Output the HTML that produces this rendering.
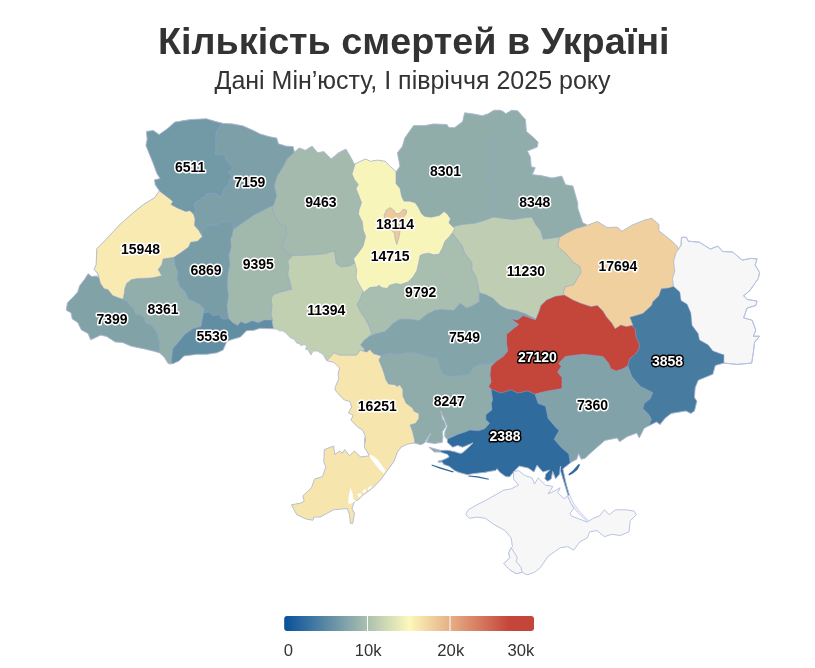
<!DOCTYPE html>
<html lang="uk"><head><meta charset="utf-8"><title>Кількість смертей в Україні</title>
<style>
html,body{margin:0;padding:0;background:#fff;}
body{width:815px;height:668px;overflow:hidden;position:relative;font-family:"Liberation Sans",sans-serif;}
h1{position:absolute;left:0;top:18.5px;width:827.6px;margin:0;text-align:center;font-size:37.75px;line-height:44px;font-weight:bold;color:#333;}
h2{position:absolute;left:0;top:65px;width:825px;margin:0;text-align:center;font-size:25px;line-height:30px;font-weight:normal;color:#333;}
svg{position:absolute;left:0;top:0;}
.labels text{font-family:"Liberation Sans",sans-serif;font-size:14px;font-weight:bold;text-anchor:middle;paint-order:stroke;stroke-width:3px;stroke-linejoin:round;}
.ll{fill:#000;stroke:#fff;}
.ld{fill:#fff;stroke:#000;}
.ax text{font-family:"Liberation Sans",sans-serif;font-size:16.67px;fill:#333;}
</style></head><body>
<h1>Кількість смертей в Україні</h1>
<h2>Дані Мін’юсту, І півріччя 2025 року</h2>
<svg width="815" height="668" viewBox="0 0 815 668">
<defs><linearGradient id="lg" x1="0" x2="1" y1="0" y2="0"><stop offset="0" stop-color="#08509a"/><stop offset="0.5" stop-color="#fdf8bb"/><stop offset="0.9" stop-color="#c4463a"/><stop offset="1" stop-color="#c4463a"/></linearGradient></defs>
<defs><clipPath id="sil"><path d="M146.4,131.4 153.3,130.4 159.1,134.6 168,128.2 174.8,122.1 190.1,119.6 206.3,118.7 214.1,121.1 222.5,123.3 231.8,123.8 242.8,125.8 253.9,130.7 260,133.9 269.8,136.8 276.7,138 278.4,143.7 285.8,146.1 293.1,146.6 294.4,152 299.3,147.9 305.4,150.3 312,146.1 317.7,152.8 323.8,151.5 331.2,158.9 338.5,152.8 345.9,149.1 349.6,155.2 354.5,164.3 360.6,161.3 365.5,158.9 370.4,161.3 377.8,160.1 385.2,161.3 390.1,166.3 396.2,171.7 399.9,166.3 397.4,152.8 402.3,146.6 404.8,138 413.6,125.5 425.3,125.5 433.2,123.9 446.9,124.5 448.9,127.5 454.8,127.5 462.6,121.6 464.6,112.8 472.4,113.7 482.3,115.7 488.2,113.7 494,110.2 499.9,110.2 502.9,111.4 505.8,113.7 511.7,110.2 517.6,110.8 525.5,119.6 526.4,131.4 533.3,137.3 538.2,142.2 537.2,147.1 527.4,151 530.4,156.9 531.3,166.7 535.3,167.7 532.3,174.6 541.2,175.6 552,178 561.8,176.1 565.5,184.7 572.9,185.9 577.8,203.1 577.8,208 582.7,222.7 587.6,225.2 597.4,221.5 607.2,227.6 617.1,227.1 622,231.3 631.8,225.2 644,220.2 651.4,218.3 652,218.4 658.9,224.5 658.9,230.7 671.2,240.5 677.3,246.6 678.5,249.1 681,245.4 681.5,237.3 686.4,237.3 688.3,241.2 699.4,242.2 710.4,249.1 717.8,246.1 722.7,251.5 732.5,252 742.3,260.1 750.9,258.4 757.1,258.9 755.1,265 759.5,272.4 758.3,278.5 749.7,290.8 743.6,295.7 747.2,299.4 757.1,301.1 755.8,305.5 747.2,308 743.6,317.8 752.1,320.2 755.8,330.1 753.4,336.2 759.5,336.2 754.6,342.3 753.4,352.1 751.7,363.1 737.4,364.4 723.9,363.1 715.3,365.6 712.9,374.2 698.2,380.3 695.2,387.7 694.5,397.5 696.9,401.2 694.5,411 690.8,413.4 685.9,411 671.2,413.4 665,418.3 660.1,424.5 656.4,422 649.1,425.7 644.2,428.2 639.3,438 636.8,433.1 627,436.7 619.6,441.7 617.2,438 604.9,440.4 590,453.4 585.1,458.3 581.2,459.3 578.6,453.8 576.8,459.3 571.3,462.2 562.9,468.8 565.9,482.6 569.9,496.9 568.6,497.3 564.2,483 560.4,470.6 560.5,466.1 559.6,474 555.6,478.9 552.7,471.4 551.3,478.9 547.8,481.2 544.8,478.9 545.8,474 549.7,470.1 542.9,472 537,465.2 534,472 528.2,468.1 519.3,466.1 514.4,471 509.5,476.9 505.6,476.5 500,472.4 496.9,468.7 495.7,470.6 490.8,471.2 484.7,472.4 473.6,473.6 467.5,474.8 458.9,472.4 454.6,470.6 449.1,466.3 443.6,464.4 442.3,462 438,462.6 438.7,460.7 442.9,460.1 449.1,457.1 447.9,454.6 440.5,452.1 434.4,452.1 428.8,447.2 440.5,450.3 447.9,450.3 454,451.5 460.1,453.4 462.6,452.8 468.7,447.2 473,442.9 462.6,447.2 457.7,445.4 452.8,447.2 447.2,442.3 447.2,439.3 444.8,436.8 444.8,431.9 447.2,426.4 445.4,422.1 442.9,416 440.5,411 441.7,413.5 442.3,418.4 444.8,422.1 446,426.4 442.3,431.9 442.9,436.8 442.3,442.3 434.4,443.6 426.4,442.3 430.7,433.1 424.5,442.9 420.9,444.8 414.1,442.9 407.2,444.2 401.1,447.2 397.4,452.1 393.7,461.9 386.4,471.7 380.2,480.3 371.7,488.9 363.1,495 358.2,499.9 354.5,501.2 352,508.5 354.5,513.4 352.8,523.3 350.3,523.3 349.6,514.7 347.1,508.5 333.6,509.8 320.1,517.1 314,517.1 312.8,520.3 305.4,518.8 296.8,514.7 291.4,504.8 300.5,503.1 304.2,501.2 302.9,495.8 311.5,487.7 314.5,479.1 322.6,476.6 325.8,466.8 323.8,461.9 324.3,449.6 333.6,446 334.8,454.5 339.8,450.9 342.2,453.3 344.7,449.6 349.6,455.8 354.5,450.9 360.6,457 369.2,455.8 368,453.3 364.3,447.2 365,437.4 365.2,442.5 365.2,436.1 362.8,430.5 357.2,426.5 350.8,420.1 353.2,415.2 348.4,412.8 351.6,407.2 350,401.6 344.4,400 338.8,394.4 334.8,389.6 335.6,386.4 338.8,378.4 338,373.6 339.6,368 334,362.4 326.8,360.8 325.8,359.4 323.3,354.5 317.4,351 313,351 311,355 307.5,349.1 305.6,349.6 307,345.6 304.1,344.6 300.6,345.6 299.6,343.6 296.7,343.1 294.2,339.2 290.2,337.7 286.3,333.3 282.8,330.8 279.4,330.8 277.4,329.3 274,328.8 260,328.3 253.9,330.3 246.5,330.7 240.4,337.1 231.8,339.6 226.9,341.3 223.2,349.9 217.1,352.8 207.2,354.3 197.4,354.3 183.9,356 179,360.9 173.4,363.4 170.4,364.1 168,363.4 164.3,357.3 159.4,352.8 153.3,351.1 143.4,348.7 131.2,346.2 122.6,342.5 115.2,342 106.6,336.4 100.5,335.2 93.1,338.8 90.6,339.8 88.1,333.6 81.4,329.9 77.7,322.6 72.2,318.9 71,312.8 66.3,310.3 67.3,302.9 73.4,296.8 77.7,291.9 79.5,285.8 84.4,279.6 88.1,273.7 91.8,276.6 96.1,276 98.9,277.2 97.3,272.9 94,269.2 96.1,264.9 96.8,248.7 106.6,238.9 118.9,225.4 131.2,214.4 143.4,204.5 154.5,197.7 159.4,191 155.2,184.7 154.5,179.8 160.1,178.5 156.9,173.6 152.8,162.6 148.8,152.8 145.9,145.4 147.1,139.3Z"/></clipPath></defs>
<path d="M146.4,131.4 153.3,130.4 159.1,134.6 168,128.2 174.8,122.1 190.1,119.6 206.3,118.7 214.1,121.1 222.5,123.3 231.8,123.8 242.8,125.8 253.9,130.7 260,133.9 269.8,136.8 276.7,138 278.4,143.7 285.8,146.1 293.1,146.6 294.4,152 299.3,147.9 305.4,150.3 312,146.1 317.7,152.8 323.8,151.5 331.2,158.9 338.5,152.8 345.9,149.1 349.6,155.2 354.5,164.3 360.6,161.3 365.5,158.9 370.4,161.3 377.8,160.1 385.2,161.3 390.1,166.3 396.2,171.7 399.9,166.3 397.4,152.8 402.3,146.6 404.8,138 413.6,125.5 425.3,125.5 433.2,123.9 446.9,124.5 448.9,127.5 454.8,127.5 462.6,121.6 464.6,112.8 472.4,113.7 482.3,115.7 488.2,113.7 494,110.2 499.9,110.2 502.9,111.4 505.8,113.7 511.7,110.2 517.6,110.8 525.5,119.6 526.4,131.4 533.3,137.3 538.2,142.2 537.2,147.1 527.4,151 530.4,156.9 531.3,166.7 535.3,167.7 532.3,174.6 541.2,175.6 552,178 561.8,176.1 565.5,184.7 572.9,185.9 577.8,203.1 577.8,208 582.7,222.7 587.6,225.2 597.4,221.5 607.2,227.6 617.1,227.1 622,231.3 631.8,225.2 644,220.2 651.4,218.3 652,218.4 658.9,224.5 658.9,230.7 671.2,240.5 677.3,246.6 678.5,249.1 681,245.4 681.5,237.3 686.4,237.3 688.3,241.2 699.4,242.2 710.4,249.1 717.8,246.1 722.7,251.5 732.5,252 742.3,260.1 750.9,258.4 757.1,258.9 755.1,265 759.5,272.4 758.3,278.5 749.7,290.8 743.6,295.7 747.2,299.4 757.1,301.1 755.8,305.5 747.2,308 743.6,317.8 752.1,320.2 755.8,330.1 753.4,336.2 759.5,336.2 754.6,342.3 753.4,352.1 751.7,363.1 737.4,364.4 723.9,363.1 715.3,365.6 712.9,374.2 698.2,380.3 695.2,387.7 694.5,397.5 696.9,401.2 694.5,411 690.8,413.4 685.9,411 671.2,413.4 665,418.3 660.1,424.5 656.4,422 649.1,425.7 644.2,428.2 639.3,438 636.8,433.1 627,436.7 619.6,441.7 617.2,438 604.9,440.4 590,453.4 585.1,458.3 581.2,459.3 578.6,453.8 576.8,459.3 571.3,462.2 562.9,468.8 565.9,482.6 569.9,496.9 568.6,497.3 564.2,483 560.4,470.6 560.5,466.1 559.6,474 555.6,478.9 552.7,471.4 551.3,478.9 547.8,481.2 544.8,478.9 545.8,474 549.7,470.1 542.9,472 537,465.2 534,472 528.2,468.1 519.3,466.1 514.4,471 509.5,476.9 505.6,476.5 500,472.4 496.9,468.7 495.7,470.6 490.8,471.2 484.7,472.4 473.6,473.6 467.5,474.8 458.9,472.4 454.6,470.6 449.1,466.3 443.6,464.4 442.3,462 438,462.6 438.7,460.7 442.9,460.1 449.1,457.1 447.9,454.6 440.5,452.1 434.4,452.1 428.8,447.2 440.5,450.3 447.9,450.3 454,451.5 460.1,453.4 462.6,452.8 468.7,447.2 473,442.9 462.6,447.2 457.7,445.4 452.8,447.2 447.2,442.3 447.2,439.3 444.8,436.8 444.8,431.9 447.2,426.4 445.4,422.1 442.9,416 440.5,411 441.7,413.5 442.3,418.4 444.8,422.1 446,426.4 442.3,431.9 442.9,436.8 442.3,442.3 434.4,443.6 426.4,442.3 430.7,433.1 424.5,442.9 420.9,444.8 414.1,442.9 407.2,444.2 401.1,447.2 397.4,452.1 393.7,461.9 386.4,471.7 380.2,480.3 371.7,488.9 363.1,495 358.2,499.9 354.5,501.2 352,508.5 354.5,513.4 352.8,523.3 350.3,523.3 349.6,514.7 347.1,508.5 333.6,509.8 320.1,517.1 314,517.1 312.8,520.3 305.4,518.8 296.8,514.7 291.4,504.8 300.5,503.1 304.2,501.2 302.9,495.8 311.5,487.7 314.5,479.1 322.6,476.6 325.8,466.8 323.8,461.9 324.3,449.6 333.6,446 334.8,454.5 339.8,450.9 342.2,453.3 344.7,449.6 349.6,455.8 354.5,450.9 360.6,457 369.2,455.8 368,453.3 364.3,447.2 365,437.4 365.2,442.5 365.2,436.1 362.8,430.5 357.2,426.5 350.8,420.1 353.2,415.2 348.4,412.8 351.6,407.2 350,401.6 344.4,400 338.8,394.4 334.8,389.6 335.6,386.4 338.8,378.4 338,373.6 339.6,368 334,362.4 326.8,360.8 325.8,359.4 323.3,354.5 317.4,351 313,351 311,355 307.5,349.1 305.6,349.6 307,345.6 304.1,344.6 300.6,345.6 299.6,343.6 296.7,343.1 294.2,339.2 290.2,337.7 286.3,333.3 282.8,330.8 279.4,330.8 277.4,329.3 274,328.8 260,328.3 253.9,330.3 246.5,330.7 240.4,337.1 231.8,339.6 226.9,341.3 223.2,349.9 217.1,352.8 207.2,354.3 197.4,354.3 183.9,356 179,360.9 173.4,363.4 170.4,364.1 168,363.4 164.3,357.3 159.4,352.8 153.3,351.1 143.4,348.7 131.2,346.2 122.6,342.5 115.2,342 106.6,336.4 100.5,335.2 93.1,338.8 90.6,339.8 88.1,333.6 81.4,329.9 77.7,322.6 72.2,318.9 71,312.8 66.3,310.3 67.3,302.9 73.4,296.8 77.7,291.9 79.5,285.8 84.4,279.6 88.1,273.7 91.8,276.6 96.1,276 98.9,277.2 97.3,272.9 94,269.2 96.1,264.9 96.8,248.7 106.6,238.9 118.9,225.4 131.2,214.4 143.4,204.5 154.5,197.7 159.4,191 155.2,184.7 154.5,179.8 160.1,178.5 156.9,173.6 152.8,162.6 148.8,152.8 145.9,145.4 147.1,139.3Z" fill="#c2d0b2"/>
<g clip-path="url(#sil)" stroke="#8fa3d6" stroke-opacity="0.6" stroke-width="0.9" stroke-linejoin="round">
<path d="M272.5,320.1 271.1,313.9 272.1,306 271.1,298.2 274,294.2 279.9,292.3 287.8,290.3 291.7,289.3 290.1,282.4 287.8,274.6 288.8,266.7 287.8,260.9 292.7,255.6 300,200 250,190 190,230 190,330 265,340Z" fill="#a1b9ad"/>
<path d="M354.5,262.9 349.6,265.9 341,267.1 336.1,263.4 334.8,252.4 332.4,251.2 326.3,253.6 314,254.8 299.3,255.6 292.6,255.6 285.8,253 281.9,246.1 283.9,239.3 286.8,234.4 285.8,226.5 279.9,223.6 275,217.7 273.1,211.8 272.1,206.9 262,200 262,120 375,120 375,250Z" fill="#a3baad"/>
<path d="M233.2,229.4 238.7,225.5 247.5,219.6 254.4,214.7 262.3,210.8 271.1,206.3 273.5,205.5 276.7,195.7 274.2,185.9 277.2,176.1 283.3,166.3 287,158.9 294.4,152 296,120 180,120 180,245Z" fill="#7da0a8"/>
<path d="M228.9,318.8 227.9,313.9 226.9,306 228.5,296.2 227.3,286.4 227.9,274.6 229.9,264.8 228.9,255 231.2,247.1 230.5,239.3 232.4,234.4 233.2,229.4 232.8,222.6 227.9,220.6 222,221.6 217.1,224.5 206.3,225.5 201.4,231.4 202.4,236.3 165,240 165,330 228,330Z" fill="#789da7"/>
<path d="M222.5,123.3 219.5,127 216.1,131.9 215.6,141.7 215.9,150 215.3,153.7 219,154.9 222.7,153.7 225.1,155.5 225.7,159.8 228.8,163.5 232.5,167.2 231.9,169.6 228.2,172.1 230,173.9 232.5,176.4 229.4,179.4 228.8,183.7 225.1,188 223.3,190.5 222.1,196.6 219,196 214.7,192.9 210.4,193.6 205.5,194.2 204.3,197.2 201.2,197.9 200.6,200.3 195.7,201.5 193.8,205.2 196.3,210.1 192.6,214.4 185,225 130,225 130,110 222,110Z" fill="#7299a6"/>
<path d="M173.9,257.9 174.9,264.8 177.9,272.6 176.9,278.5 179.8,286.4 185.7,292.3 187.7,298.2 190.6,300.1 199.4,304 204.4,309 203.4,312.9 205,380 120,380 120,250 174,250Z" fill="#91aeab"/>
<path d="M123.1,299.3 127.4,301.7 129.8,305.4 133.5,308.5 135.4,314 140.9,315.2 144.6,317.7 145.2,322.6 151.9,325.6 156.9,332.7 159.4,342.5 159.4,352.8 160,370 60,370 60,250 115,250Z" fill="#81a3a8"/>
<path d="M171.7,363.4 171.7,357.3 172.9,348.7 180.2,340.1 185.2,333.9 193.7,328.3 201.1,326.6 201.8,321.7 203.6,313.1 208.3,311.9 213.2,315.8 219.1,314.8 222,318.8 228.9,318.8 232.8,322.7 237.7,325.6 240.7,321.7 245.6,323.7 252.4,320.7 258.3,322.7 264.2,320.1 272.5,320.1 271.8,320.9 273.5,329 272,345 170,370Z" fill="#628ea4"/>
<path d="M159.4,191 164.3,194.7 169.2,198.4 172.9,201.6 170.9,204.5 177.8,208.2 185.6,211.4 190.1,210.7 193.7,214.4 195,219.3 194.5,225.4 198.7,230.3 202.3,236.4 197.5,241.2 190.6,242.2 188.6,247.1 181.8,252 173.9,257.3 169.2,258 163.1,259 161.8,264.7 158.2,269.6 161.8,275.7 153.3,277.7 147,278.2 138.4,278.4 131.7,279.6 126.8,283.3 124.9,288.2 124.3,293.1 123.1,299.3 117.6,297.4 112.7,295.6 110.2,292.5 107.8,289.4 104.1,288.8 100.4,283.3 99.2,278.4 97.3,272.9 85,268 80,180 150,180Z" fill="#f8eab1"/>
<path d="M363.1,291.5 359.4,300.8 356.9,304.5 360.6,311.9 365.5,319.2 369.2,326.6 371.7,333.9 369.2,336.4 380,340 500,340 500,220 370,220Z" fill="#a8beae"/>
<path d="M364.3,349.4 364.3,348.7 360.6,345 364.3,340.1 369.2,336.4 375.3,333.9 385.2,331.5 393.7,322.9 399.9,319.2 409.7,319.2 419.5,320.4 426.9,314.3 434.2,310.6 441.6,309.4 453.9,310.6 459.9,303.3 467,308 473.1,305.5 479.3,301.8 479.3,292.8 490,285 560,285 560,400 360,400Z" fill="#83a5a9"/>
<path d="M385,100 510,100 510,229 385,229Z" fill="#90adaa"/>
<path d="M500.5,110.3 499.3,114.7 502.9,124.5 499.3,131.9 491.9,136.8 489.4,144.2 491.9,156.4 490.7,171.2 485.8,181 493.1,187.1 491.9,198.2 490.7,210.4 490.7,216.6 492,245 600,245 600,100 502,100Z" fill="#90adab"/>
<path d="M445,230 453.7,226.5 462.1,224.5 474.4,223.3 482.9,220.9 492.8,217.2 495.2,217.2 503.8,218.4 513.6,219.6 524.7,217.7 532,217.2 535.7,224.5 540.6,230.7 543.1,239.3 552.9,238 560.7,236.8 600,236 600,315 535.7,319 525.9,314.1 516.1,310.4 507.5,309.2 500.1,305.5 492.8,298.2 485.4,294.5 479.3,292.8 478,284.7 475.6,276.1 471.9,269.9 471.9,262.6 464.5,252.8 462.1,245.4 457.2,239.3 452.8,233.6Z" fill="#bfceb2"/>
<path d="M379.4,356.5 388,353.3 397.8,354.5 410.1,352.1 417.4,353.3 427.2,357 437.1,358.2 439.5,366.8 443.2,374.2 451.8,376.6 461.6,375.4 470.2,374.2 473.9,366.8 480.5,364.4 488.6,363.9 500,362 500,480 375,480 375,360Z" fill="#8facaa"/>
<path d="M520,350 700,350 700,480 520,480Z" fill="#80a2a8"/>
<path d="M355.2,163.6 352,174 354.4,179.6 358.4,184.4 356,188.4 359.2,196.4 361.6,202.8 359.2,209.2 358.4,214 362.4,222 363.2,230.1 365.6,236.4 363.2,246 357.6,254 353.6,258.8 354.4,261.5 356.8,270 356,278 359.2,284.4 362.4,290 363.7,292.4 369.6,287.6 376.8,286.8 379.2,285.2 381.6,287.6 387.2,288.4 389.6,285.2 396,283.6 400.8,284.4 408,282 412.8,277.2 416.8,270.8 418.5,263.6 420.1,255.6 423.3,254 428.9,253.2 433.7,254.8 439.3,254 442.5,247.6 444.9,241.2 448.9,237.2 452.1,233.2 454.5,228.5 448.9,222.8 450.5,218.8 447.3,214 444.1,211.6 439.3,215.6 431.3,217.2 424.9,216.4 421.7,214 418.5,207.6 415.2,202.8 409.6,201.2 404,201.2 401.6,196.4 400,188.4 396,183.6 396,170 396,150 354,150Z" fill="#f8f5ba"/>
<path d="M384,215.6 386.4,210 390.4,207.6 393.6,210 396,214 400,213.2 403.2,209.2 406.4,210 406.4,213.2 403.2,218 400.8,222 399.2,226.8 400,231.7 398.4,239.7 396.8,244.5 395.2,239.7 394.4,233.3 391.2,230.1 388,225.2 385.6,220.4Z" fill="#eeca9a"/>
<path d="M326.8,360.8 334,352.8 339.6,355.2 348.4,355.2 356.4,355.2 360.4,350.4 366.8,352 370,349.6 373.2,353.6 381.2,356 378.8,360 381.2,365.6 383.6,372 386,380 388.5,384 394.9,384.8 397.3,386.4 399.7,384.8 402.9,389.6 402.9,396 406.1,403.2 412.5,408 414.1,411.2 418.9,413.6 418.9,418.5 415.7,423.3 410.1,424.9 412.5,431.3 414.1,437.7 414.9,442.5 414.5,443.4 420,530 280,530 280,360Z" fill="#f7e5ae"/>
<path d="M586.4,225.6 575.3,228.8 565.5,233.7 559.4,237.4 557.8,246.6 565.2,252.8 573.7,262.6 579.9,266.3 581.1,272.4 577.4,278.5 573.7,284.7 565.2,287.1 562.7,295.2 570,345 700,345 700,200 590,200Z" fill="#f0d09e"/>
<path d="M564.2,294.9 565.3,295.5 573.1,300 580.8,303.3 590.8,306.6 597.5,305.5 603,311.1 606.3,316.6 611.9,323.3 615.2,328.8 620.7,325 626.3,326.6 631.4,325.5 650,326 650,362 627.8,365.8 623,368.7 616.3,370.9 610.8,368.7 608.6,363.2 603,356.5 594.1,355.4 583.1,354.3 573.1,355.4 565.3,356.5 558.7,363.2 561.3,366.5 557.6,372 562,377.6 562,388.6 555.3,389.8 547.6,390.9 538.7,393.1 535,394.2 530,405 496,400 491.1,389.1 488.8,386.4 491.1,382 490,374.2 491.1,366.5 496.6,360.9 503.3,356.5 507.7,351 506.6,343.2 506.6,334.3 513.2,328.8 518.8,324.4 511,318.8 517.7,319.9 523.2,315.5 535.4,319.9 538.7,312.2 540.9,305.5 546.5,300 555.3,296.2Z" fill="#c4463a"/>
<path d="M447.2,439.3 452.8,436.8 457.7,434.4 463.8,432.5 469.9,430.1 478.5,430.7 484.7,428.8 489.6,423.3 485.9,419.6 485.9,414.7 492,409.8 491.4,403.7 492.6,400 491.1,389.1 501,393.1 511,389.8 517.7,393.1 527.6,390.9 535,394.2 538.2,403.6 545.5,406.1 548,418.3 555.3,426.9 559,430.6 554.1,439.2 561.5,447.8 568.8,453.9 570.1,462.5 575,470 575,500 445,500 440.5,452.8 440.5,450.1 447.2,442.3Z" fill="#2f6b9c"/>
<path d="M633.1,325.6 629.9,317.3 636.8,315.3 642.9,313.4 651.5,305.5 652.8,301.8 658.9,295.7 661.3,288.8 668.7,287.9 673.6,286.4 780,287 780,440 650,440 649.1,425.2 651.5,419.6 649.1,414.7 642.9,408.5 644.2,403.6 650.3,398.7 652.8,392.6 640.5,386.4 631.9,376.6 627.8,365.8 629.6,358.7 634,355.4 638.5,349.9 639.6,344.3 636.3,337.7 635.2,328.8 631.4,325.5Z" fill="#477ba0"/>
<path d="M678.5,249.1 676.1,252.8 673.6,261.3 674.8,271.2 672.4,278.5 673.6,286.4 679.8,292 681,300.6 687.1,304.3 690.8,312.9 692,325.2 698.2,333.7 699.4,339.9 708,344.8 712.9,350.9 722.7,354.6 723.9,354.5 723.9,363.1 725,380 790,380 790,220 680,220Z" fill="#f7f7f7"/>
</g>
<path d="M146.4,131.4 153.3,130.4 159.1,134.6 168,128.2 174.8,122.1 190.1,119.6 206.3,118.7 214.1,121.1 222.5,123.3 231.8,123.8 242.8,125.8 253.9,130.7 260,133.9 269.8,136.8 276.7,138 278.4,143.7 285.8,146.1 293.1,146.6 294.4,152 299.3,147.9 305.4,150.3 312,146.1 317.7,152.8 323.8,151.5 331.2,158.9 338.5,152.8 345.9,149.1 349.6,155.2 354.5,164.3 360.6,161.3 365.5,158.9 370.4,161.3 377.8,160.1 385.2,161.3 390.1,166.3 396.2,171.7 399.9,166.3 397.4,152.8 402.3,146.6 404.8,138 413.6,125.5 425.3,125.5 433.2,123.9 446.9,124.5 448.9,127.5 454.8,127.5 462.6,121.6 464.6,112.8 472.4,113.7 482.3,115.7 488.2,113.7 494,110.2 499.9,110.2 502.9,111.4 505.8,113.7 511.7,110.2 517.6,110.8 525.5,119.6 526.4,131.4 533.3,137.3 538.2,142.2 537.2,147.1 527.4,151 530.4,156.9 531.3,166.7 535.3,167.7 532.3,174.6 541.2,175.6 552,178 561.8,176.1 565.5,184.7 572.9,185.9 577.8,203.1 577.8,208 582.7,222.7 587.6,225.2 597.4,221.5 607.2,227.6 617.1,227.1 622,231.3 631.8,225.2 644,220.2 651.4,218.3 652,218.4 658.9,224.5 658.9,230.7 671.2,240.5 677.3,246.6 678.5,249.1 681,245.4 681.5,237.3 686.4,237.3 688.3,241.2 699.4,242.2 710.4,249.1 717.8,246.1 722.7,251.5 732.5,252 742.3,260.1 750.9,258.4 757.1,258.9 755.1,265 759.5,272.4 758.3,278.5 749.7,290.8 743.6,295.7 747.2,299.4 757.1,301.1 755.8,305.5 747.2,308 743.6,317.8 752.1,320.2 755.8,330.1 753.4,336.2 759.5,336.2 754.6,342.3 753.4,352.1 751.7,363.1 737.4,364.4 723.9,363.1 715.3,365.6 712.9,374.2 698.2,380.3 695.2,387.7 694.5,397.5 696.9,401.2 694.5,411 690.8,413.4 685.9,411 671.2,413.4 665,418.3 660.1,424.5 656.4,422 649.1,425.7 644.2,428.2 639.3,438 636.8,433.1 627,436.7 619.6,441.7 617.2,438 604.9,440.4 590,453.4 585.1,458.3 581.2,459.3 578.6,453.8 576.8,459.3 571.3,462.2 562.9,468.8 565.9,482.6 569.9,496.9 568.6,497.3 564.2,483 560.4,470.6 560.5,466.1 559.6,474 555.6,478.9 552.7,471.4 551.3,478.9 547.8,481.2 544.8,478.9 545.8,474 549.7,470.1 542.9,472 537,465.2 534,472 528.2,468.1 519.3,466.1 514.4,471 509.5,476.9 505.6,476.5 500,472.4 496.9,468.7 495.7,470.6 490.8,471.2 484.7,472.4 473.6,473.6 467.5,474.8 458.9,472.4 454.6,470.6 449.1,466.3 443.6,464.4 442.3,462 438,462.6 438.7,460.7 442.9,460.1 449.1,457.1 447.9,454.6 440.5,452.1 434.4,452.1 428.8,447.2 440.5,450.3 447.9,450.3 454,451.5 460.1,453.4 462.6,452.8 468.7,447.2 473,442.9 462.6,447.2 457.7,445.4 452.8,447.2 447.2,442.3 447.2,439.3 444.8,436.8 444.8,431.9 447.2,426.4 445.4,422.1 442.9,416 440.5,411 441.7,413.5 442.3,418.4 444.8,422.1 446,426.4 442.3,431.9 442.9,436.8 442.3,442.3 434.4,443.6 426.4,442.3 430.7,433.1 424.5,442.9 420.9,444.8 414.1,442.9 407.2,444.2 401.1,447.2 397.4,452.1 393.7,461.9 386.4,471.7 380.2,480.3 371.7,488.9 363.1,495 358.2,499.9 354.5,501.2 352,508.5 354.5,513.4 352.8,523.3 350.3,523.3 349.6,514.7 347.1,508.5 333.6,509.8 320.1,517.1 314,517.1 312.8,520.3 305.4,518.8 296.8,514.7 291.4,504.8 300.5,503.1 304.2,501.2 302.9,495.8 311.5,487.7 314.5,479.1 322.6,476.6 325.8,466.8 323.8,461.9 324.3,449.6 333.6,446 334.8,454.5 339.8,450.9 342.2,453.3 344.7,449.6 349.6,455.8 354.5,450.9 360.6,457 369.2,455.8 368,453.3 364.3,447.2 365,437.4 365.2,442.5 365.2,436.1 362.8,430.5 357.2,426.5 350.8,420.1 353.2,415.2 348.4,412.8 351.6,407.2 350,401.6 344.4,400 338.8,394.4 334.8,389.6 335.6,386.4 338.8,378.4 338,373.6 339.6,368 334,362.4 326.8,360.8 325.8,359.4 323.3,354.5 317.4,351 313,351 311,355 307.5,349.1 305.6,349.6 307,345.6 304.1,344.6 300.6,345.6 299.6,343.6 296.7,343.1 294.2,339.2 290.2,337.7 286.3,333.3 282.8,330.8 279.4,330.8 277.4,329.3 274,328.8 260,328.3 253.9,330.3 246.5,330.7 240.4,337.1 231.8,339.6 226.9,341.3 223.2,349.9 217.1,352.8 207.2,354.3 197.4,354.3 183.9,356 179,360.9 173.4,363.4 170.4,364.1 168,363.4 164.3,357.3 159.4,352.8 153.3,351.1 143.4,348.7 131.2,346.2 122.6,342.5 115.2,342 106.6,336.4 100.5,335.2 93.1,338.8 90.6,339.8 88.1,333.6 81.4,329.9 77.7,322.6 72.2,318.9 71,312.8 66.3,310.3 67.3,302.9 73.4,296.8 77.7,291.9 79.5,285.8 84.4,279.6 88.1,273.7 91.8,276.6 96.1,276 98.9,277.2 97.3,272.9 94,269.2 96.1,264.9 96.8,248.7 106.6,238.9 118.9,225.4 131.2,214.4 143.4,204.5 154.5,197.7 159.4,191 155.2,184.7 154.5,179.8 160.1,178.5 156.9,173.6 152.8,162.6 148.8,152.8 145.9,145.4 147.1,139.3Z" fill="none" stroke="#b4bdd6" stroke-opacity="0.9" stroke-width="1" stroke-linejoin="round"/>
<path d="M431.8,464.5 441,467.5 453.9,471.5 453,472.5 440.1,468.8 431.5,465.6Z" fill="#2f6b9c"/>
<path d="M468.7,475.4 477.9,476.3 488.9,478.7 488.6,479.8 477,477.6 468.3,476.5Z" fill="#2f6b9c"/>
<path d="M568.3,474.3 572.9,470.6 578.4,464.2 580.3,464.5 577.5,469.7 572.9,473.4 569.2,475.6Z" fill="#2f6b9c"/>
<path d="M369.2,454.5 372.9,455.8 377.8,459.4 385.6,470.5 383.9,473.7 379,469.3 374.1,463.1 370.9,459Z" fill="#fff"/>
<path d="M350.5,487.7 352.7,493.9 353.5,499.8 356.4,500.5 349.8,504.2 348.3,503.5 348.6,496.9Z" fill="#fff"/>
<path d="M357.2,493.9 360.8,493.2 361.6,496.1 358.6,496.9Z" fill="#fff"/>
<path d="M362.3,491.7 365.3,488 366,491.7 363.8,493.2Z" fill="#fff"/>
<path d="M367.5,488.8 371.2,485.1 371.2,488 368.2,490.2Z" fill="#fff"/>
<path d="M678.5,249.1 681,245.4 681.5,237.3 686.4,237.3 688.3,241.2 699.4,242.2 710.4,249.1 717.8,246.1 722.7,251.5 732.5,252 742.3,260.1 750.9,258.4 757.1,258.9 755.1,265 759.5,272.4 758.3,278.5 749.7,290.8 743.6,295.7 747.2,299.4 757.1,301.1 755.8,305.5 747.2,308 743.6,317.8 752.1,320.2 755.8,330.1 753.4,336.2 759.5,336.2 754.6,342.3 753.4,352.1 751.7,363.1 737.4,364.4 723.9,363.1" fill="none" stroke="#b9c4e4" stroke-width="1"/>
<path d="M513.6,471.7 513.6,479.1 518.5,485.2 511.2,488.9 503.8,490.1 495.2,495 484.2,501.2 476.8,504.8 468.2,509.8 465.8,514.7 469.4,518.3 476.8,517.1 485.4,518.3 494,524.5 505,530.6 511.2,538 512.4,546.6 508.7,552.7 509.9,557.6 503.8,563.7 509.9,569.9 516.1,573.6 522.2,572.3 527.1,574.8 534.5,572.3 540.6,567.4 548,556.4 560.2,547.8 567.6,546.6 573.7,550.2 579.9,541.7 587.2,538 589.7,531.8 597.1,530.6 604.4,536.7 611.8,534.3 620.4,535.5 629,531.8 630.2,520.8 636.3,514.7 633.9,511 626.5,509.8 615.5,509.8 609.3,514.7 604.4,509.8 599.5,515.9 593.4,518.3 587.2,522 577.4,518.3 571.3,515.9 570.1,513.4 573.7,508.5 567.6,496.3 563.9,498.7 557.8,492.6 560.2,487.7 554.1,491.3 548,493.8 552.9,486.4 545.5,485.2 538.2,477.9 534.5,484 532,477.9 524.7,475.4 518.5,470.5Z" fill="#f7f7f7" stroke="#b9c4e4" stroke-width="1"/>
<path d="M567.6,495.8 571.3,503.6 577.4,512.2 587.2,521.3 588.2,520.3 579.9,512.2 573.7,503.6 569.6,495Z" fill="#f7f7f7" stroke="#b9c4e4" stroke-width="0.8"/>
<path d="M511.2,547.8 517.3,557.6 516.1,561.3 521,567.4 522.2,572.3 516.1,573.6 509.9,569.9 503.8,563.7 509.9,557.6 508.7,552.7Z" fill="#f7f7f7" stroke="#b9c4e4" stroke-width="1"/>
<g class="labels"><text class="ll" x="190.2" y="171.9">6511</text><text class="ll" x="249.8" y="186.7">7159</text><text class="ll" x="320.9" y="206.9">9463</text><text class="ll" x="445.6" y="175.8">8301</text><text class="ll" x="534.8" y="206.9">8348</text><text class="ll" x="395" y="229.0">18114</text><text class="ll" x="390.1" y="260.9">14715</text><text class="ll" x="140.5" y="253.8">15948</text><text class="ll" x="206" y="274.7">6869</text><text class="ll" x="258.3" y="268.9">9395</text><text class="ll" x="326.3" y="315.2">11394</text><text class="ll" x="420.7" y="297.3">9792</text><text class="ll" x="525.9" y="276.3">11230</text><text class="ll" x="617.9" y="271.4">17694</text><text class="ll" x="112" y="323.8">7399</text><text class="ll" x="163.1" y="313.9">8361</text><text class="ll" x="212.1" y="340.9">5536</text><text class="ll" x="464.5" y="342.1">7549</text><text class="ld" x="537.4" y="362.1">27120</text><text class="ld" x="667.5" y="366.3">3858</text><text class="ll" x="377.3" y="410.9">16251</text><text class="ll" x="449.3" y="406.3">8247</text><text class="ld" x="505" y="441.1">2388</text><text class="ll" x="592.6" y="409.9">7360</text></g>
<rect x="284.2" y="616" width="249.8" height="15" rx="3" fill="url(#lg)"/>
<path d="M367.5 616v15M450 616v15" stroke="#fff" stroke-width="1"/>
<g class="ax"><text x="283.8" y="656">0</text><text x="368.2" y="656" text-anchor="middle">10k</text><text x="450.8" y="656" text-anchor="middle">20k</text><text x="534.3" y="656" text-anchor="end">30k</text></g>
</svg>
</body></html>
